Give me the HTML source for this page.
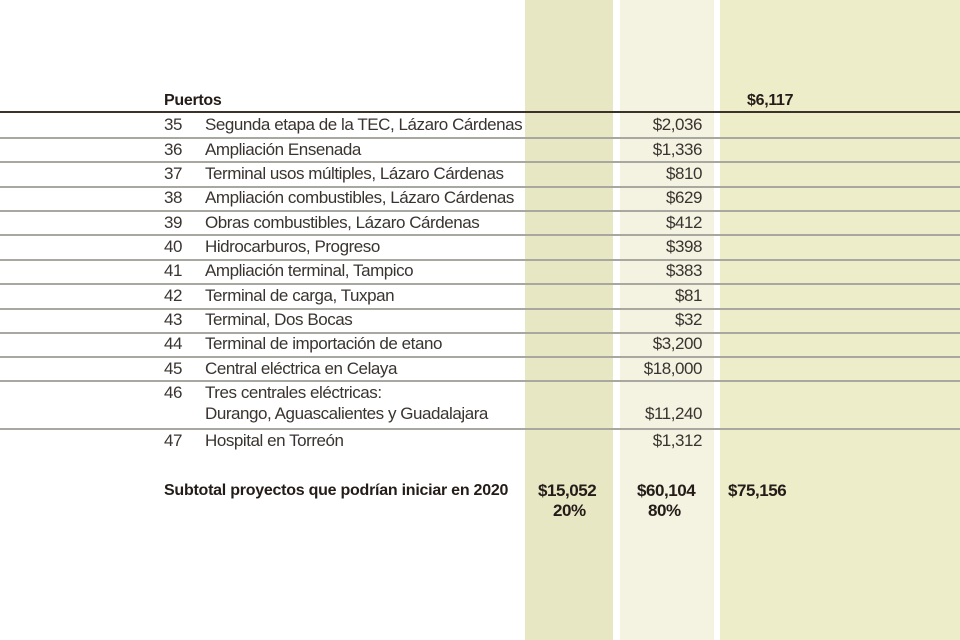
<!DOCTYPE html>
<html>
<head>
<meta charset="utf-8">
<style>
  html,body{margin:0;padding:0;}
  body{width:960px;height:640px;position:relative;overflow:hidden;background:#ffffff;
       font-family:"Liberation Sans",sans-serif;color:#3a3430;}
  .col{position:absolute;top:0;height:640px;}
  .hl{position:absolute;left:0;width:960px;height:1.5px;background:#a9a8a0;}
  .t{position:absolute;height:20px;line-height:20px;font-size:17px;letter-spacing:-0.45px;white-space:nowrap;}
  .n{left:164px;}
  .d{left:205px;}
  .v{right:258px;text-align:right;}
  .b{font-weight:bold;color:#231c18;}
</style>
</head>
<body>
  <div class="col" style="left:525px;width:88px;background:#e8e7c4;"></div>
  <div class="col" style="left:620px;width:94px;background:#f4f2e1;"></div>
  <div class="col" style="left:720px;width:240px;background:#eeedca;"></div>

  <div style="position:absolute;left:0;top:111px;width:960px;height:2px;background:#3b3229;"></div>
  <div class="hl" style="top:137px"></div>
  <div class="hl" style="top:161px"></div>
  <div class="hl" style="top:186px"></div>
  <div class="hl" style="top:210px"></div>
  <div class="hl" style="top:234px"></div>
  <div class="hl" style="top:259px"></div>
  <div class="hl" style="top:283px"></div>
  <div class="hl" style="top:308px"></div>
  <div class="hl" style="top:332px"></div>
  <div class="hl" style="top:356px"></div>
  <div class="hl" style="top:380px"></div>
  <div class="hl" style="top:428px"></div>

  <div class="t b" style="left:164px;top:91px;font-size:16px;letter-spacing:-0.3px;">Puertos</div>
  <div class="t b" style="left:747px;top:91px;font-size:16px;letter-spacing:-0.3px;">$6,117</div>

  <div class="t n" style="top:115px">35</div><div class="t d" style="top:115px">Segunda etapa de la TEC, Lázaro Cárdenas</div><div class="t v" style="top:115px">$2,036</div>
  <div class="t n" style="top:140px">36</div><div class="t d" style="top:140px">Ampliación Ensenada</div><div class="t v" style="top:140px">$1,336</div>
  <div class="t n" style="top:164px">37</div><div class="t d" style="top:164px">Terminal usos múltiples, Lázaro Cárdenas</div><div class="t v" style="top:164px">$810</div>
  <div class="t n" style="top:188px">38</div><div class="t d" style="top:188px">Ampliación combustibles, Lázaro Cárdenas</div><div class="t v" style="top:188px">$629</div>
  <div class="t n" style="top:213px">39</div><div class="t d" style="top:213px">Obras combustibles, Lázaro Cárdenas</div><div class="t v" style="top:213px">$412</div>
  <div class="t n" style="top:237px">40</div><div class="t d" style="top:237px">Hidrocarburos, Progreso</div><div class="t v" style="top:237px">$398</div>
  <div class="t n" style="top:261px">41</div><div class="t d" style="top:261px">Ampliación terminal, Tampico</div><div class="t v" style="top:261px">$383</div>
  <div class="t n" style="top:286px">42</div><div class="t d" style="top:286px">Terminal de carga, Tuxpan</div><div class="t v" style="top:286px">$81</div>
  <div class="t n" style="top:310px">43</div><div class="t d" style="top:310px">Terminal, Dos Bocas</div><div class="t v" style="top:310px">$32</div>
  <div class="t n" style="top:334px">44</div><div class="t d" style="top:334px">Terminal de importación de etano</div><div class="t v" style="top:334px">$3,200</div>
  <div class="t n" style="top:359px">45</div><div class="t d" style="top:359px">Central eléctrica en Celaya</div><div class="t v" style="top:359px">$18,000</div>
  <div class="t n" style="top:383px">46</div><div class="t d" style="top:383px">Tres centrales eléctricas:</div>
  <div class="t d" style="top:404px">Durango, Aguascalientes y Guadalajara</div><div class="t v" style="top:404px">$11,240</div>
  <div class="t n" style="top:431px">47</div><div class="t d" style="top:431px">Hospital en Torreón</div><div class="t v" style="top:431px">$1,312</div>

  <div class="t b" style="left:164px;top:481px;font-size:16px;letter-spacing:-0.25px;">Subtotal proyectos que podrían iniciar en 2020</div>
  <div class="t b" style="left:538px;top:481px;">$15,052</div>
  <div class="t b" style="left:637px;top:481px;">$60,104</div>
  <div class="t b" style="left:728px;top:481px;">$75,156</div>
  <div class="t b" style="left:553px;top:501px;">20%</div>
  <div class="t b" style="left:648px;top:501px;">80%</div>
</body>
</html>
